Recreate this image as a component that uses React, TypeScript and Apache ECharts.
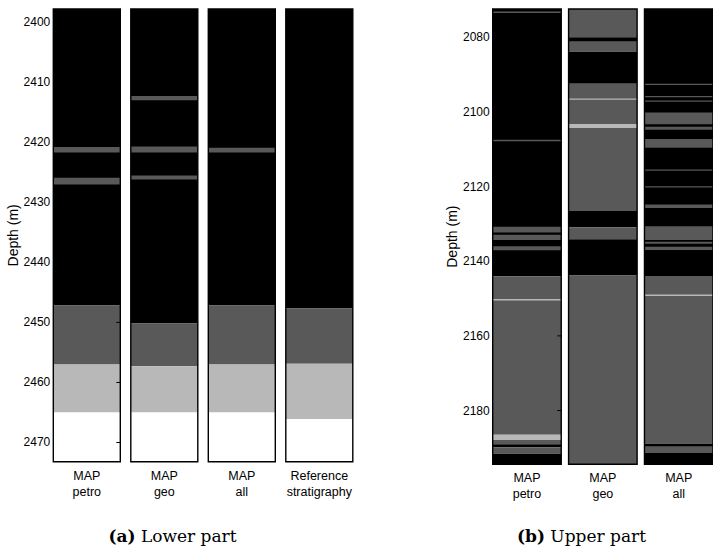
import React, { useEffect, useRef } from "react";
import * as echarts from "echarts";

// Lithology class colours: 0 black, 1 dark grey, 2 light grey, 3 white
const CLASS_COLORS = ["#000000", "#595959", "#b8b8b8", "#ffffff"];

// ---------- (a) Lower part ----------
const lowerNames = ["MAP\npetro", "MAP\ngeo", "MAP\nall", "Reference\nstratigraphy"];
const lowerTicks = [2400, 2410, 2420, 2430, 2440, 2450, 2460, 2470];
const lowerRange = [2397.8, 2473.2];
// segments: [top depth, bottom depth, class]
const lowerPetro = [
  [2397.8, 2447.2, 0], [2420.8, 2421.7, 1], [2425.9, 2427.05, 1],
  [2447.2, 2457.0, 1], [2457.0, 2465.0, 2], [2465.0, 2473.2, 3],
];
const lowerGeo = [
  [2397.8, 2450.2, 0], [2412.3, 2413.0, 1], [2420.7, 2421.7, 1], [2425.55, 2426.2, 1],
  [2450.2, 2457.3, 1], [2457.3, 2465.0, 2], [2465.0, 2473.2, 3],
];
const lowerAll = [
  [2397.8, 2447.2, 0], [2420.9, 2421.7, 1],
  [2447.2, 2457.0, 1], [2457.0, 2465.0, 2], [2465.0, 2473.2, 3],
];
const lowerRef = [
  [2397.8, 2447.7, 0], [2447.7, 2456.9, 1], [2456.9, 2466.1, 2], [2466.1, 2473.2, 3],
];

// ---------- (b) Upper part ----------
const upperNames = ["MAP\npetro", "MAP\ngeo", "MAP\nall"];
const upperTicks = [2080, 2100, 2120, 2140, 2160, 2180];
const upperRange = [2072.45, 2194.4];
const upperPetro = [
  [2072.45, 2144.05, 0], [2073.1, 2073.5, 1], [2107.5, 2107.9, 1],
  [2130.8, 2132.3, 1], [2132.9, 2134.3, 1], [2136.0, 2137.1, 1],
  [2144.05, 2186.5, 1], [2150.1, 2150.5, 2], [2186.5, 2187.9, 2],
  [2187.9, 2189.0, 1], [2189.0, 2189.8, 0], [2189.8, 2191.6, 1], [2191.6, 2194.4, 0],
];
const upperGeo = [
  [2072.45, 2080.0, 1], [2080.0, 2081.2, 0], [2081.2, 2083.9, 1], [2083.9, 2092.5, 0],
  [2092.5, 2126.55, 1], [2096.4, 2096.75, 2], [2103.25, 2104.3, 2],
  [2126.55, 2130.9, 0], [2130.9, 2134.1, 1], [2134.1, 2143.8, 0], [2143.8, 2194.4, 1],
];
const upperAll = [
  [2072.45, 2143.97, 0], [2092.45, 2092.8, 1], [2095.75, 2096.1, 1], [2096.95, 2097.3, 1],
  [2100.2, 2103.3, 1], [2104.0, 2104.8, 1], [2107.3, 2109.6, 1], [2115.45, 2115.8, 1],
  [2119.9, 2120.25, 1], [2124.8, 2125.75, 1], [2130.65, 2134.3, 1], [2134.8, 2135.3, 1],
  [2136.1, 2137.0, 1], [2143.97, 2188.9, 1], [2148.9, 2149.3, 2],
  [2188.9, 2189.7, 0], [2189.7, 2191.4, 1], [2191.4, 2194.4, 0],
];

const SANS = "'Liberation Sans', Arial, sans-serif";
const SERIF = "'DejaVu Serif', 'Liberation Serif', serif";

function buildPanel(
  idx: number,
  columns: number[][][],
  names: string[],
  ticks: number[],
  range: number[],
  colW: number
) {
  const segData: number[][] = [];
  columns.forEach((segs, c) => segs.forEach((s) => segData.push([c, s[0], s[1], s[2]])));
  const frameData = columns.map((segs, c) => [c, range[0], range[1]]);
  const centers = names.map((_, i) => i + colW / 2);

  const xAxis = {
    type: "value",
    gridIndex: idx,
    min: 0,
    max: columns.length - 1 + colW,
    axisLine: { show: false },
    axisTick: { show: false },
    splitLine: { show: false },
    axisLabel: {
      show: true,
      customValues: centers,
      margin: 6,
      color: "#000",
      fontSize: 12.5,
      lineHeight: 16,
      fontFamily: SANS,
      formatter: (v: number) => names[Math.round(v - colW / 2)] ?? "",
    },
  };
  const yAxis = {
    type: "value",
    gridIndex: idx,
    inverse: true,
    min: range[0],
    max: range[1],
    name: "Depth (m)",
    nameLocation: "middle",
    nameRotate: 90,
    nameGap: 33,
    nameTextStyle: { fontSize: 14, fontFamily: SANS, color: "#000" },
    axisLine: { show: false },
    splitLine: { show: false },
    axisTick: {
      show: true,
      inside: true,
      length: 4,
      customValues: ticks,
      lineStyle: { color: "#000", width: 1 },
    },
    axisLabel: {
      show: true,
      customValues: ticks,
      margin: 3,
      color: "#000",
      fontSize: 12,
      fontFamily: SANS,
      formatter: (v: number) => String(v),
    },
  };

  const segSeries = {
    type: "custom",
    xAxisIndex: idx,
    yAxisIndex: idx,
    clip: false,
    data: segData,
    renderItem: (params: any, api: any) => {
      const c = api.value(0);
      const p0 = api.coord([c, api.value(1)]);
      const p1 = api.coord([c + colW, api.value(2)]);
      return {
        type: "rect",
        shape: { x: p0[0], y: p0[1], width: p1[0] - p0[0], height: p1[1] - p0[1] },
        style: { fill: CLASS_COLORS[api.value(3)] },
      };
    },
  };
  const frameSeries = {
    type: "custom",
    xAxisIndex: idx,
    yAxisIndex: idx,
    clip: false,
    data: frameData,
    z: 5,
    renderItem: (params: any, api: any) => {
      const c = api.value(0);
      const p0 = api.coord([c, api.value(1)]);
      const p1 = api.coord([c + colW, api.value(2)]);
      return {
        type: "rect",
        shape: { x: p0[0], y: p0[1], width: p1[0] - p0[0], height: p1[1] - p0[1] },
        style: { fill: "none", stroke: "#000", lineWidth: 1.4 },
      };
    },
  };
  const rightTickSeries = {
    type: "custom",
    xAxisIndex: idx,
    yAxisIndex: idx,
    clip: false,
    data: ticks.map((t) => [colW, t]),
    z: 6,
    renderItem: (params: any, api: any) => {
      const p = api.coord([api.value(0), api.value(1)]);
      return {
        type: "line",
        shape: { x1: p[0] - 4, y1: p[1], x2: p[0], y2: p[1] },
        style: { stroke: "#000", lineWidth: 1 },
      };
    },
  };
  return { xAxis, yAxis, series: [segSeries, frameSeries, rightTickSeries] };
}

export default function App() {
  const ref = useRef<HTMLDivElement>(null);
  useEffect(() => {
    if (!ref.current) return;
    const chart = echarts.init(ref.current, undefined, { renderer: "svg" });
    const lowerColW = 67 / 77.5;
    const upperColW = 70 / 77.5;
    const a = buildPanel(0, [lowerPetro, lowerGeo, lowerAll, lowerRef], lowerNames, lowerTicks, lowerRange, lowerColW);
    const b = buildPanel(1, [upperPetro, upperGeo, upperAll], upperNames, upperTicks, upperRange, upperColW);
    chart.setOption({
      animation: false,
      backgroundColor: "#ffffff",
      grid: [
        { left: 53.3, top: 9, width: (3 + lowerColW) * 77.5, height: 452.7 },
        { left: 492.7, top: 9, width: (2 + upperColW) * 77.5, height: 455.3 },
      ],
      xAxis: [a.xAxis, b.xAxis],
      yAxis: [a.yAxis, b.yAxis],
      series: [...a.series, ...b.series],
      graphic: [
        {
          type: "text",
          x: 172.5,
          y: 536,
          style: {
            text: "{b|(a)} Lower part",
            align: "center",
            verticalAlign: "middle",
            font: "17px " + SERIF,
            fill: "#000",
            rich: { b: { fontWeight: "bold", fontSize: 17, fontFamily: SERIF } },
          },
        },
        {
          type: "text",
          x: 581.5,
          y: 536,
          style: {
            text: "{b|(b)} Upper part",
            align: "center",
            verticalAlign: "middle",
            font: "17px " + SERIF,
            fill: "#000",
            rich: { b: { fontWeight: "bold", fontSize: 17, fontFamily: SERIF } },
          },
        },
      ],
    });
    return () => chart.dispose();
  }, []);
  return (
    <div
      ref={ref}
      style={{ position: "absolute", left: 0, top: 0, width: 713, height: 549, overflow: "hidden" }}
    />
  );
}
